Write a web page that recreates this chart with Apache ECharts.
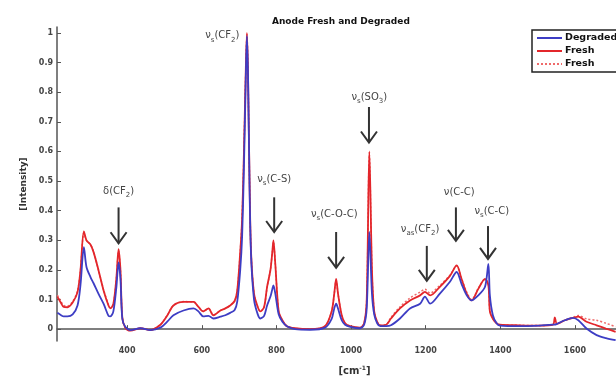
<!DOCTYPE html>
<html>
<head>
<meta charset="utf-8">
<script src="https://cdn.jsdelivr.net/npm/echarts@6/dist/echarts.min.js"></script>
<style>
  html, body { margin: 0; padding: 0; background: #fff; }
  #main { width: 616px; height: 381px; }
</style>
</head>
<body>
<div id="main"></div>
<script>
// wavenumber [cm-1] of each sample
const wavenumbers = [213, 222, 230, 240, 254, 267, 275, 284, 291, 302, 310, 323, 337, 350, 355, 363, 371, 377, 382, 387, 395,
  409, 436, 462, 489, 508, 524, 551, 578, 591, 604, 618, 631, 650, 663, 676, 688, 695, 703, 708, 713, 718, 721, 724, 728, 732,
  740, 750, 757, 767, 775, 784, 789, 792, 797, 806, 816, 828, 850, 890, 930, 948, 955, 960, 965, 975, 984, 998, 1024, 1035,
  1042, 1049, 1056, 1062, 1070, 1078, 1094, 1107, 1131, 1158, 1185, 1198, 1212, 1238, 1265, 1283, 1296, 1310, 1323, 1341,
  1359, 1368, 1372, 1380, 1390, 1399, 1452, 1506, 1541, 1546, 1552, 1573, 1595, 1609, 1631, 1658, 1683, 1709];

const degraded = [0.055, 0.048, 0.043, 0.043, 0.05, 0.08, 0.15, 0.277, 0.21, 0.175, 0.155, 0.12, 0.085, 0.045, 0.043, 0.06, 0.14, 0.225, 0.17, 0.035, 0.008,
  -0.003, 0.003, -0.003, 0.005, 0.026, 0.047, 0.063, 0.07, 0.06, 0.043, 0.045, 0.036, 0.042, 0.047, 0.055, 0.065, 0.093, 0.2, 0.31, 0.55, 0.85, 0.99, 0.85, 0.48, 0.25,
  0.1, 0.05, 0.036, 0.045, 0.08, 0.11, 0.135, 0.148, 0.12, 0.05, 0.025, 0.01, 0, -0.002, 0.005, 0.035, 0.07, 0.086, 0.07, 0.03, 0.015, 0.008, 0.003, 0.015,
  0.07, 0.328, 0.12, 0.05, 0.02, 0.01, 0.01, 0.013, 0.036, 0.07, 0.086, 0.11, 0.086, 0.12, 0.16, 0.193, 0.153, 0.114, 0.097, 0.114,
  0.143, 0.22, 0.114, 0.047, 0.02, 0.012, 0.01, 0.012, 0.015, 0.015, 0.018, 0.03, 0.038, 0.03, 0.002, -0.02, -0.03, -0.037];

const fresh = [0.11, 0.09, 0.075, 0.074, 0.09, 0.125, 0.2, 0.33, 0.3, 0.285, 0.26, 0.2, 0.13, 0.08, 0.07, 0.085, 0.17, 0.27, 0.2, 0.04, 0.005,
  -0.005, 0.003, -0.003, 0.015, 0.047, 0.08, 0.092, 0.092, 0.075, 0.06, 0.07, 0.047, 0.063, 0.07, 0.08, 0.095, 0.13, 0.26, 0.37, 0.6, 0.88, 1.0, 0.85, 0.5, 0.26,
  0.12, 0.075, 0.06, 0.075, 0.143, 0.2, 0.26, 0.3, 0.22, 0.06, 0.03, 0.01, 0.003, 0, 0.01, 0.06, 0.12, 0.17, 0.12, 0.047, 0.02, 0.01, 0.005, 0.02,
  0.1, 0.6, 0.2, 0.06, 0.025, 0.013, 0.015, 0.036, 0.07, 0.097, 0.114, 0.126, 0.114, 0.143, 0.18, 0.215, 0.17, 0.12, 0.097, 0.136,
  0.17, 0.148, 0.06, 0.035, 0.02, 0.015, 0.013, 0.012, 0.015, 0.04, 0.018, 0.03, 0.038, 0.042, 0.025, 0.013, 0.002, -0.009];

const freshDotted = [0.115, 0.095, 0.08, 0.078, 0.093, 0.13, 0.2, 0.325, 0.3, 0.285, 0.262, 0.2, 0.132, 0.082, 0.072, 0.085, 0.17, 0.265, 0.2, 0.04, 0.005,
  -0.004, 0.003, -0.002, 0.015, 0.048, 0.08, 0.093, 0.092, 0.076, 0.06, 0.07, 0.048, 0.063, 0.07, 0.08, 0.095, 0.13, 0.26, 0.37, 0.6, 0.88, 0.995, 0.85, 0.5, 0.26,
  0.12, 0.075, 0.06, 0.075, 0.14, 0.2, 0.26, 0.295, 0.22, 0.06, 0.03, 0.01, 0.003, 0, 0.01, 0.06, 0.12, 0.165, 0.12, 0.047, 0.02, 0.01, 0.005, 0.02,
  0.1, 0.59, 0.2, 0.06, 0.025, 0.013, 0.016, 0.04, 0.075, 0.105, 0.125, 0.135, 0.122, 0.148, 0.182, 0.213, 0.172, 0.125, 0.1, 0.138,
  0.168, 0.15, 0.062, 0.035, 0.02, 0.015, 0.013, 0.012, 0.015, 0.016, 0.018, 0.03, 0.04, 0.046, 0.035, 0.03, 0.02, 0.008];

const yTicks = [0, 0.1, 0.2, 0.3, 0.4, 0.5, 0.6, 0.7, 0.8, 0.9, 1];
const xTicks = [400, 600, 800, 1000, 1200, 1400, 1600];

// band assignments: arrow at wn from top to bottom (intensity), label centre at (labelX, labelY)
const bands = [
  { text: 'δ(CF{sub|2})', wn: 377, top: 0.411, bottom: 0.29, labelX: 377, labelY: 0.465 },
  { text: 'ν{sub|s}(CF{sub|2})', wn: null, labelX: 655, labelY: 0.99 },
  { text: 'ν{sub|s}(C-S)', wn: 794, top: 0.445, bottom: 0.328, labelX: 794, labelY: 0.505 },
  { text: 'ν{sub|s}(C-O-C)', wn: 960, top: 0.328, bottom: 0.207, labelX: 955, labelY: 0.388 },
  { text: 'ν{sub|s}(SO{sub|3})', wn: 1048, top: 0.75, bottom: 0.63, labelX: 1049, labelY: 0.784 },
  { text: 'ν{sub|as}(CF{sub|2})', wn: 1203, top: 0.281, bottom: 0.163, labelX: 1185, labelY: 0.338 },
  { text: 'ν(C-C)', wn: 1281, top: 0.411, bottom: 0.298, labelX: 1290, labelY: 0.462 },
  { text: 'ν{sub|s}(C-C)', wn: 1367, top: 0.348, bottom: 0.237, labelX: 1377, labelY: 0.398 }
];

const pairs = vals => wavenumbers.map((w, i) => [w, vals[i]]);
const tickFont = { fontFamily: 'DejaVu Sans', fontWeight: 'bold', fontSize: 8, color: '#444' };

const chart = echarts.init(document.getElementById('main'));

chart.setOption({
  animation: false,
  backgroundColor: '#fff',
  title: {
    text: 'Anode Fresh and Degraded',
    left: 267, top: 12,
    textStyle: { fontFamily: 'DejaVu Sans', fontWeight: 'bold', fontSize: 9, color: '#111' }
  },
  legend: {
    orient: 'vertical',
    left: 532, top: 30,
    data: ['Degraded', 'Fresh', 'Fresh '],
    itemWidth: 25, itemHeight: 10, itemGap: 3,
    padding: [3, 10, 3, 4],
    borderColor: '#222', borderWidth: 1.5, backgroundColor: '#fff',
    itemStyle: { opacity: 0 },
    textStyle: { fontFamily: 'DejaVu Sans', fontWeight: 'bold', fontSize: 9.5, color: '#111', padding: [0, 0, 0, -2] }
  },
  grid: { left: 57, right: 0, top: 27, bottom: 38 },
  xAxis: {
    type: 'value', min: 212, max: 1710,
    name: '[cm{sup|-1}]', nameLocation: 'middle', nameGap: 24,
    nameTextStyle: {
      fontFamily: 'DejaVu Sans', fontWeight: 'bold', fontSize: 10, color: '#333', padding: [0, 0, 0, 36],
      rich: { sup: { fontSize: 6, fontWeight: 'bold', color: '#333', padding: [0, 0, 6, 0] } }
    },
    splitLine: { show: false },
    axisLine: { lineStyle: { color: '#555', width: 1.5 } },
    axisTick: { inside: true, length: 4, customValues: xTicks, lineStyle: { color: '#555' } },
    axisLabel: Object.assign({ customValues: xTicks, margin: 6, formatter: v => String(v) }, tickFont)
  },
  yAxis: {
    type: 'value', min: -0.04, max: 1.02,
    name: '[Intensity]', nameLocation: 'middle', nameGap: 28,
    nameTextStyle: { fontFamily: 'DejaVu Sans', fontWeight: 'bold', fontSize: 9, color: '#333' },
    splitLine: { show: false },
    axisLine: { show: true, lineStyle: { color: '#555', width: 1.5 } },
    axisTick: { show: true, inside: true, length: 4, customValues: yTicks, lineStyle: { color: '#555' } },
    axisLabel: Object.assign({ customValues: yTicks, margin: 4, formatter: v => String(v) }, tickFont)
  },
  series: [
    {
      name: 'Fresh ', type: 'line', data: pairs(freshDotted), symbol: 'none', smooth: 0.3,
      lineStyle: { color: '#ef6a6a', width: 1.5, type: [2, 2] }, itemStyle: { color: '#ef6a6a' }
    },
    {
      name: 'Fresh', type: 'line', data: pairs(fresh), symbol: 'none', smooth: 0.3,
      lineStyle: { color: '#e3262b', width: 1.8 }, itemStyle: { color: '#e3262b' }
    },
    {
      name: 'Degraded', type: 'line', data: pairs(degraded), symbol: 'none', smooth: 0.3,
      lineStyle: { color: '#3d3dc4', width: 1.8 }, itemStyle: { color: '#3d3dc4' }
    }
  ]
});

// arrows and band labels, placed through the chart's own scales
const labelRich = {
  sub: { fontFamily: 'DejaVu Sans', fontSize: 7, fill: '#444', padding: [8, 0, 0, 0] }
};
const graphics = [];
bands.forEach(b => {
  const lp = chart.convertToPixel({ gridIndex: 0 }, [b.labelX, b.labelY]);
  graphics.push({
    type: 'text', x: lp[0], y: lp[1],
    style: {
      text: b.text, rich: labelRich, fill: '#444',
      font: '10px "DejaVu Sans"', align: 'center', verticalAlign: 'middle'
    }
  });
  if (b.wn === null) return;
  const p1 = chart.convertToPixel({ gridIndex: 0 }, [b.wn, b.top]);
  const p2 = chart.convertToPixel({ gridIndex: 0 }, [b.wn, b.bottom]);
  graphics.push({
    type: 'line', shape: { x1: p1[0], y1: p1[1], x2: p2[0], y2: p2[1] },
    style: { stroke: '#333', lineWidth: 2 }
  });
  graphics.push({
    type: 'polyline', shape: { points: [[p2[0] - 8, p2[1] - 11], [p2[0], p2[1]], [p2[0] + 8, p2[1] - 11]] },
    style: { stroke: '#333', lineWidth: 2, fill: null }
  });
});
chart.setOption({ graphic: graphics });
</script>
</body>
</html>
